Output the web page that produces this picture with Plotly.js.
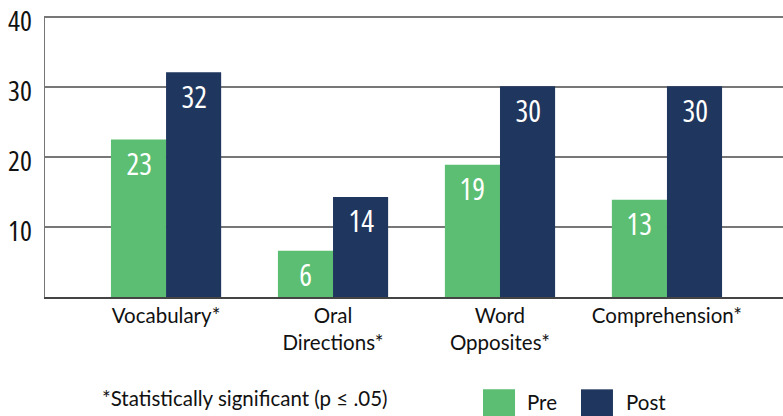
<!DOCTYPE html>
<html><head><meta charset="utf-8">
<script src="https://cdn.plot.ly/plotly-3.0.1.min.js"></script>
<style>html,body{margin:0;padding:0;background:#fff}#chart{width:783px;height:416px}
#chart text[style*="Open Sans"]{font-stretch:62.5%;}
</style>
</head><body><div id="chart"></div>
<script>
const categories = ["Vocabulary*", "Oral<br>Directions*", "Word<br>Opposites*", "Comprehension*"];
const preValues = [22.5, 6.6, 18.9, 13.9];
const postValues = [32.1, 14.3, 30.1, 30.1];
const preLabels = ["23", "6", "19", "13"];
const postLabels = ["32", "14", "30", "30"];
const yTicks = [10, 20, 30, 40];
const seriesNames = ["Pre", "Post"];
const seriesColors = ["#5bbe73", "#1f365e"];
const footnote = "*Statistically significant (p \u2264 .05)";

const numFont = "'Open Sans', sans-serif";
const labFont = "Lato, 'Noto Sans', sans-serif";
const xIdx = categories.map((c, i) => i);
const bw = 0.33;

const traces = [
  {type: 'bar', x: xIdx, y: preValues, name: seriesNames[0], width: bw, offset: -bw,
   marker: {color: seriesColors[0]}, hoverinfo: 'skip'},
  {type: 'bar', x: xIdx, y: postValues, name: seriesNames[1], width: bw, offset: 0,
   marker: {color: seriesColors[1]}, hoverinfo: 'skip'}
];

const annotations = [];
preValues.forEach((v, i) => annotations.push({x: i - bw / 2, y: v, xref: 'x', yref: 'y', text: preLabels[i],
  showarrow: false, yshift: -24, yanchor: 'middle', font: {family: numFont, size: 30, color: '#fff'}}));
postValues.forEach((v, i) => annotations.push({x: i + bw / 2, y: v, xref: 'x', yref: 'y', text: postLabels[i],
  showarrow: false, yshift: -24, yanchor: 'middle', font: {family: numFont, size: 30, color: '#fff'}}));

annotations.push({xref: 'paper', yref: 'paper', x: 0.0745, y: -0.36, xanchor: 'left', yanchor: 'middle',
  text: footnote, showarrow: false, font: {family: labFont, size: 20.5, color: '#111'}});
annotations.push({xref: 'paper', yref: 'paper', x: 0.6504, y: -0.372, xanchor: 'left', yanchor: 'middle',
  text: seriesNames[0], showarrow: false, font: {family: labFont, size: 20.5, color: '#111'}});
annotations.push({xref: 'paper', yref: 'paper', x: 0.7846, y: -0.372, xanchor: 'left', yanchor: 'middle',
  text: seriesNames[1], showarrow: false, font: {family: labFont, size: 20.5, color: '#111'}});

const shapes = [
  {type: 'rect', xref: 'paper', yref: 'paper', x0: 0.5935, x1: 0.6369, y0: -0.3286, y1: -0.425,
   fillcolor: seriesColors[0], line: {width: 0}},
  {type: 'rect', xref: 'paper', yref: 'paper', x0: 0.7263, x1: 0.7696, y0: -0.3286, y1: -0.425,
   fillcolor: seriesColors[1], line: {width: 0}}
];

const layout = {
  width: 783, height: 416,
  margin: {l: 45, r: 0, t: 16, b: 119, pad: 0},
  paper_bgcolor: '#fff', plot_bgcolor: '#fff',
  showlegend: false,
  barmode: 'group',
  xaxis: {range: [-0.725, 3.695], tickvals: xIdx, ticktext: categories, showgrid: false, zeroline: false,
    showline: true, linecolor: '#444', linewidth: 1.5, ticks: '', ticklabelstandoff: 0,
    tickfont: {family: labFont, size: 20.5, color: '#111'}, fixedrange: true},
  yaxis: {range: [0, 40.15], tickvals: yTicks, showgrid: true, gridcolor: '#777', gridwidth: 1.5,
    zeroline: false, showline: true, linecolor: '#777', linewidth: 1.5, ticks: '', ticklabelstandoff: 6,
    ticklabeloverflow: 'allow', tickfont: {family: numFont, size: 28, color: '#111'}, fixedrange: true},
  annotations: annotations,
  shapes: shapes
};

Plotly.newPlot('chart', traces, layout, {displayModeBar: false, staticPlot: true}).then(function () {
  document.querySelectorAll('#chart .ytick text').forEach(function (t) {
    const y = parseFloat(t.getAttribute('y') || '0');
    t.setAttribute('y', y + 4);
  });
});
</script></body></html>
